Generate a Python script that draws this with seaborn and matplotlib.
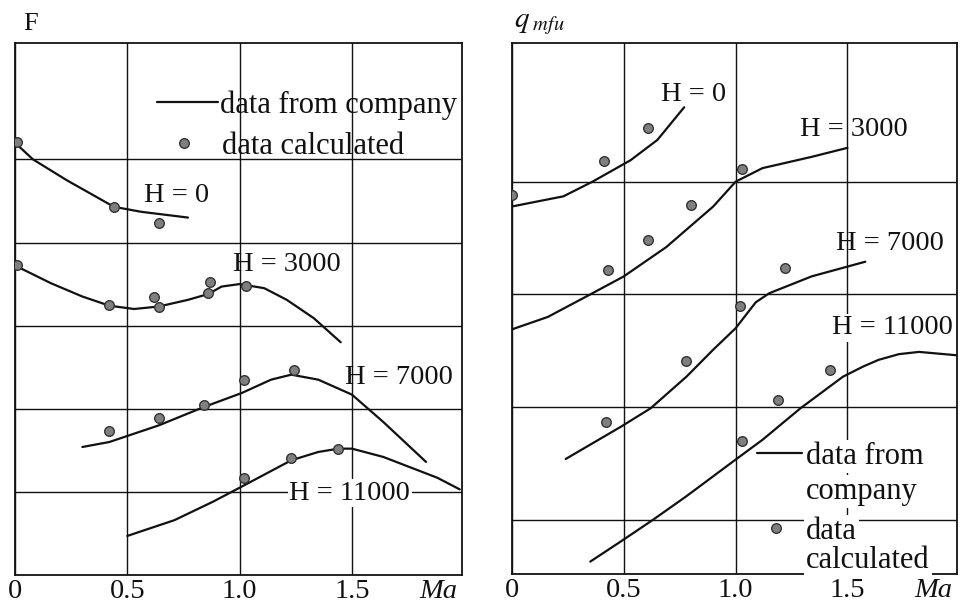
import matplotlib
matplotlib.use("Agg")
import matplotlib.pyplot as plt
import seaborn as sns

sns.set_style("white")
plt.rcParams['font.family'] = ['Liberation Serif', 'DejaVu Serif']
plt.rcParams['mathtext.fontset'] = 'stix'

# ---- left panel: F vs Ma ----
F_H0_curve_ma = [0.0, 0.08, 0.23, 0.44, 0.56, 0.77]
F_H0_curve = [5.20, 5.00, 4.75, 4.43, 4.37, 4.30]
F_H0_pts_ma = [0.01, 0.44, 0.64]
F_H0_pts = [5.21, 4.43, 4.24]

F_H3000_curve_ma = [0.01, 0.16, 0.30, 0.42, 0.53, 0.64, 0.77, 0.86, 0.92, 1.00, 1.11, 1.21, 1.33, 1.45]
F_H3000_curve = [3.71, 3.51, 3.35, 3.24, 3.20, 3.23, 3.31, 3.38, 3.47, 3.50, 3.45, 3.31, 3.09, 2.80]
F_H3000_pts_ma = [0.01, 0.42, 0.62, 0.64, 0.86, 0.87, 1.03]
F_H3000_pts = [3.73, 3.25, 3.35, 3.23, 3.39, 3.53, 3.48]

F_H7000_curve_ma = [0.30, 0.42, 0.64, 0.84, 1.01, 1.14, 1.23, 1.35, 1.50, 1.64, 1.83]
F_H7000_curve = [1.54, 1.60, 1.80, 2.02, 2.19, 2.35, 2.41, 2.35, 2.17, 1.84, 1.36]
F_H7000_pts_ma = [0.42, 0.64, 0.84, 1.02, 1.24]
F_H7000_pts = [1.73, 1.89, 2.04, 2.35, 2.47]

F_H11000_curve_ma = [0.50, 0.71, 0.88, 1.00, 1.23, 1.35, 1.44, 1.50, 1.64, 1.88, 1.98]
F_H11000_curve = [0.47, 0.66, 0.88, 1.05, 1.38, 1.48, 1.52, 1.52, 1.42, 1.17, 1.03]
F_H11000_pts_ma = [1.02, 1.23, 1.44]
F_H11000_pts = [1.17, 1.41, 1.52]

# ---- right panel: q_mfu vs Ma ----
q_H0_curve_ma = [0.0, 0.23, 0.36, 0.53, 0.65, 0.77]
q_H0_curve = [3.78, 3.87, 4.00, 4.19, 4.37, 4.66]
q_H0_pts_ma = [0.0, 0.41, 0.61]
q_H0_pts = [3.88, 4.18, 4.48]

q_H3000_curve_ma = [0.0, 0.16, 0.35, 0.50, 0.69, 0.90, 1.00, 1.12, 1.34, 1.50]
q_H3000_curve = [2.69, 2.80, 3.00, 3.16, 3.42, 3.78, 4.00, 4.12, 4.22, 4.30]
q_H3000_pts_ma = [0.43, 0.61, 0.80, 1.03]
q_H3000_pts = [3.22, 3.48, 3.79, 4.11]

q_H7000_curve_ma = [0.24, 0.49, 0.62, 0.78, 0.90, 1.00, 1.09, 1.15, 1.34, 1.58]
q_H7000_curve = [1.54, 1.83, 1.99, 2.27, 2.51, 2.70, 2.93, 3.01, 3.16, 3.29]
q_H7000_pts_ma = [0.42, 0.78, 1.02, 1.22]
q_H7000_pts = [1.87, 2.41, 2.90, 3.23]

q_H11000_curve_ma = [0.35, 0.48, 0.63, 0.78, 0.99, 1.12, 1.29, 1.48, 1.57, 1.64, 1.73, 1.82, 1.99]
q_H11000_curve = [0.63, 0.80, 1.00, 1.21, 1.52, 1.71, 1.99, 2.27, 2.36, 2.42, 2.47, 2.49, 2.46]
q_H11000_pts_ma = [1.03, 1.19, 1.42]
q_H11000_pts = [1.70, 2.06, 2.33]

height_labels = ['H = 0', 'H = 3000', 'H = 7000', 'H = 11000']
tick_ma = [0, 0.5, 1.0, 1.5]
tick_ma_labels = ['0', '0.5', '1.0', '1.5']

left_series = [
    (F_H0_curve_ma, F_H0_curve, F_H0_pts_ma, F_H0_pts),
    (F_H3000_curve_ma, F_H3000_curve, F_H3000_pts_ma, F_H3000_pts),
    (F_H7000_curve_ma, F_H7000_curve, F_H7000_pts_ma, F_H7000_pts),
    (F_H11000_curve_ma, F_H11000_curve, F_H11000_pts_ma, F_H11000_pts),
]
right_series = [
    (q_H0_curve_ma, q_H0_curve, q_H0_pts_ma, q_H0_pts),
    (q_H3000_curve_ma, q_H3000_curve, q_H3000_pts_ma, q_H3000_pts),
    (q_H7000_curve_ma, q_H7000_curve, q_H7000_pts_ma, q_H7000_pts),
    (q_H11000_curve_ma, q_H11000_curve, q_H11000_pts_ma, q_H11000_pts),
]

LINE_C = '#111111'
DOT_FACE = '#7f7f7f'
DOT_EDGE = '#333333'
FS = 20.5
LEG_FS = 22

fig = plt.figure(figsize=(9.62, 6.06), dpi=100)
ax1 = fig.add_axes([15 / 962, 1 - 575 / 606, 447 / 962, 532 / 606])
ax2 = fig.add_axes([512 / 962, 1 - 574 / 606, 445 / 962, 531 / 606])


def draw_panel(ax, series, ylim, yticks):
    for cx, cy, px, py in series:
        sns.lineplot(x=cx, y=cy, ax=ax, color=LINE_C, lw=1.6, sort=False,
                     estimator=None, zorder=3)
        sns.scatterplot(x=px, y=py, ax=ax, color=DOT_FACE, edgecolor=DOT_EDGE,
                        linewidth=1.0, s=48, zorder=4)
    ax.set_xlim(0, 1.99)
    ax.set_ylim(*ylim)
    ax.set_yticks(yticks)
    ax.set_yticklabels([])
    ax.set_xticks(tick_ma, tick_ma_labels)
    ax.set_xticks([1.885], ['Ma'], minor=True)
    for lab in ax.get_xticklabels(minor=True):
        lab.set_fontstyle('italic')
    ax.tick_params(axis='both', which='both', length=0, labelsize=FS, pad=3,
                   labelcolor='#111111')
    ax.grid(True, which='major', color='#111111', lw=1.0)
    ax.grid(False, which='minor')
    for sp in ax.spines.values():
        sp.set_visible(True)
        sp.set_color('#111111')
        sp.set_linewidth(1.3)
    ax.set_xlabel('')
    ax.set_ylabel('')


draw_panel(ax1, left_series, (0, 6.4), [1, 2, 3, 4, 5])
draw_panel(ax2, right_series, (0.52, 5.23), [1, 2, 3, 4])

# curve labels
left_lab_pos = [(0.72, 4.60), (1.21, 3.77), (1.71, 2.41), (1.49, 1.02)]
right_lab_pos = [(0.81, 4.80), (1.53, 4.49), (1.69, 3.48), (1.70, 2.73)]
for ax, pos in ((ax1, left_lab_pos), (ax2, right_lab_pos)):
    for i, (txt, (x, y)) in enumerate(zip(height_labels, pos)):
        kw = {}
        if i == 3:
            kw['bbox'] = dict(facecolor='white', edgecolor='none', pad=1)
        ax.text(x, y, txt, ha='center', va='center_baseline', fontsize=FS,
                color='#111111', zorder=5, **kw)

# left legend (drawn as annotation in axes fraction)
ax1.plot([0.318, 0.454], [0.889, 0.889], transform=ax1.transAxes,
         color=LINE_C, lw=1.6, zorder=5)
ax1.scatter([0.378], [0.812], transform=ax1.transAxes, s=48, color=DOT_FACE,
            edgecolor=DOT_EDGE, linewidth=1.0, zorder=5)
ax1.text(0.458, 0.889, 'data from company', transform=ax1.transAxes,
         ha='left', va='center_baseline', fontsize=LEG_FS, color='#111111', zorder=5)
ax1.text(0.463, 0.812, 'data calculated', transform=ax1.transAxes,
         ha='left', va='center_baseline', fontsize=LEG_FS, color='#111111', zorder=5)

# right legend
wbox = dict(facecolor='white', edgecolor='none', pad=1.5)
ax2.plot([0.551, 0.652], [0.228, 0.228], transform=ax2.transAxes,
         color=LINE_C, lw=1.6, zorder=5)
ax2.scatter([0.593], [0.087], transform=ax2.transAxes, s=48, color=DOT_FACE,
            edgecolor=DOT_EDGE, linewidth=1.0, zorder=5)
for txt, y in (('data from', 0.228), ('company', 0.162), ('data', 0.087),
               ('calculated', 0.032)):
    ax2.text(0.661, y, txt, transform=ax2.transAxes, ha='left',
             va='center_baseline', fontsize=LEG_FS, color='#111111', bbox=wbox,
             zorder=5)

# axis titles at top-left
fig.text(23 / 962, 1 - 24 / 606, 'F', ha='left', va='center', fontsize=19,
         color='#111111')
fig.text(514 / 962, 1 - 24 / 606, r'$q_{\;mfu}$', ha='left', va='center',
         fontsize=21, color='#111111')

fig.savefig('out.png', dpi=100, facecolor='white')
